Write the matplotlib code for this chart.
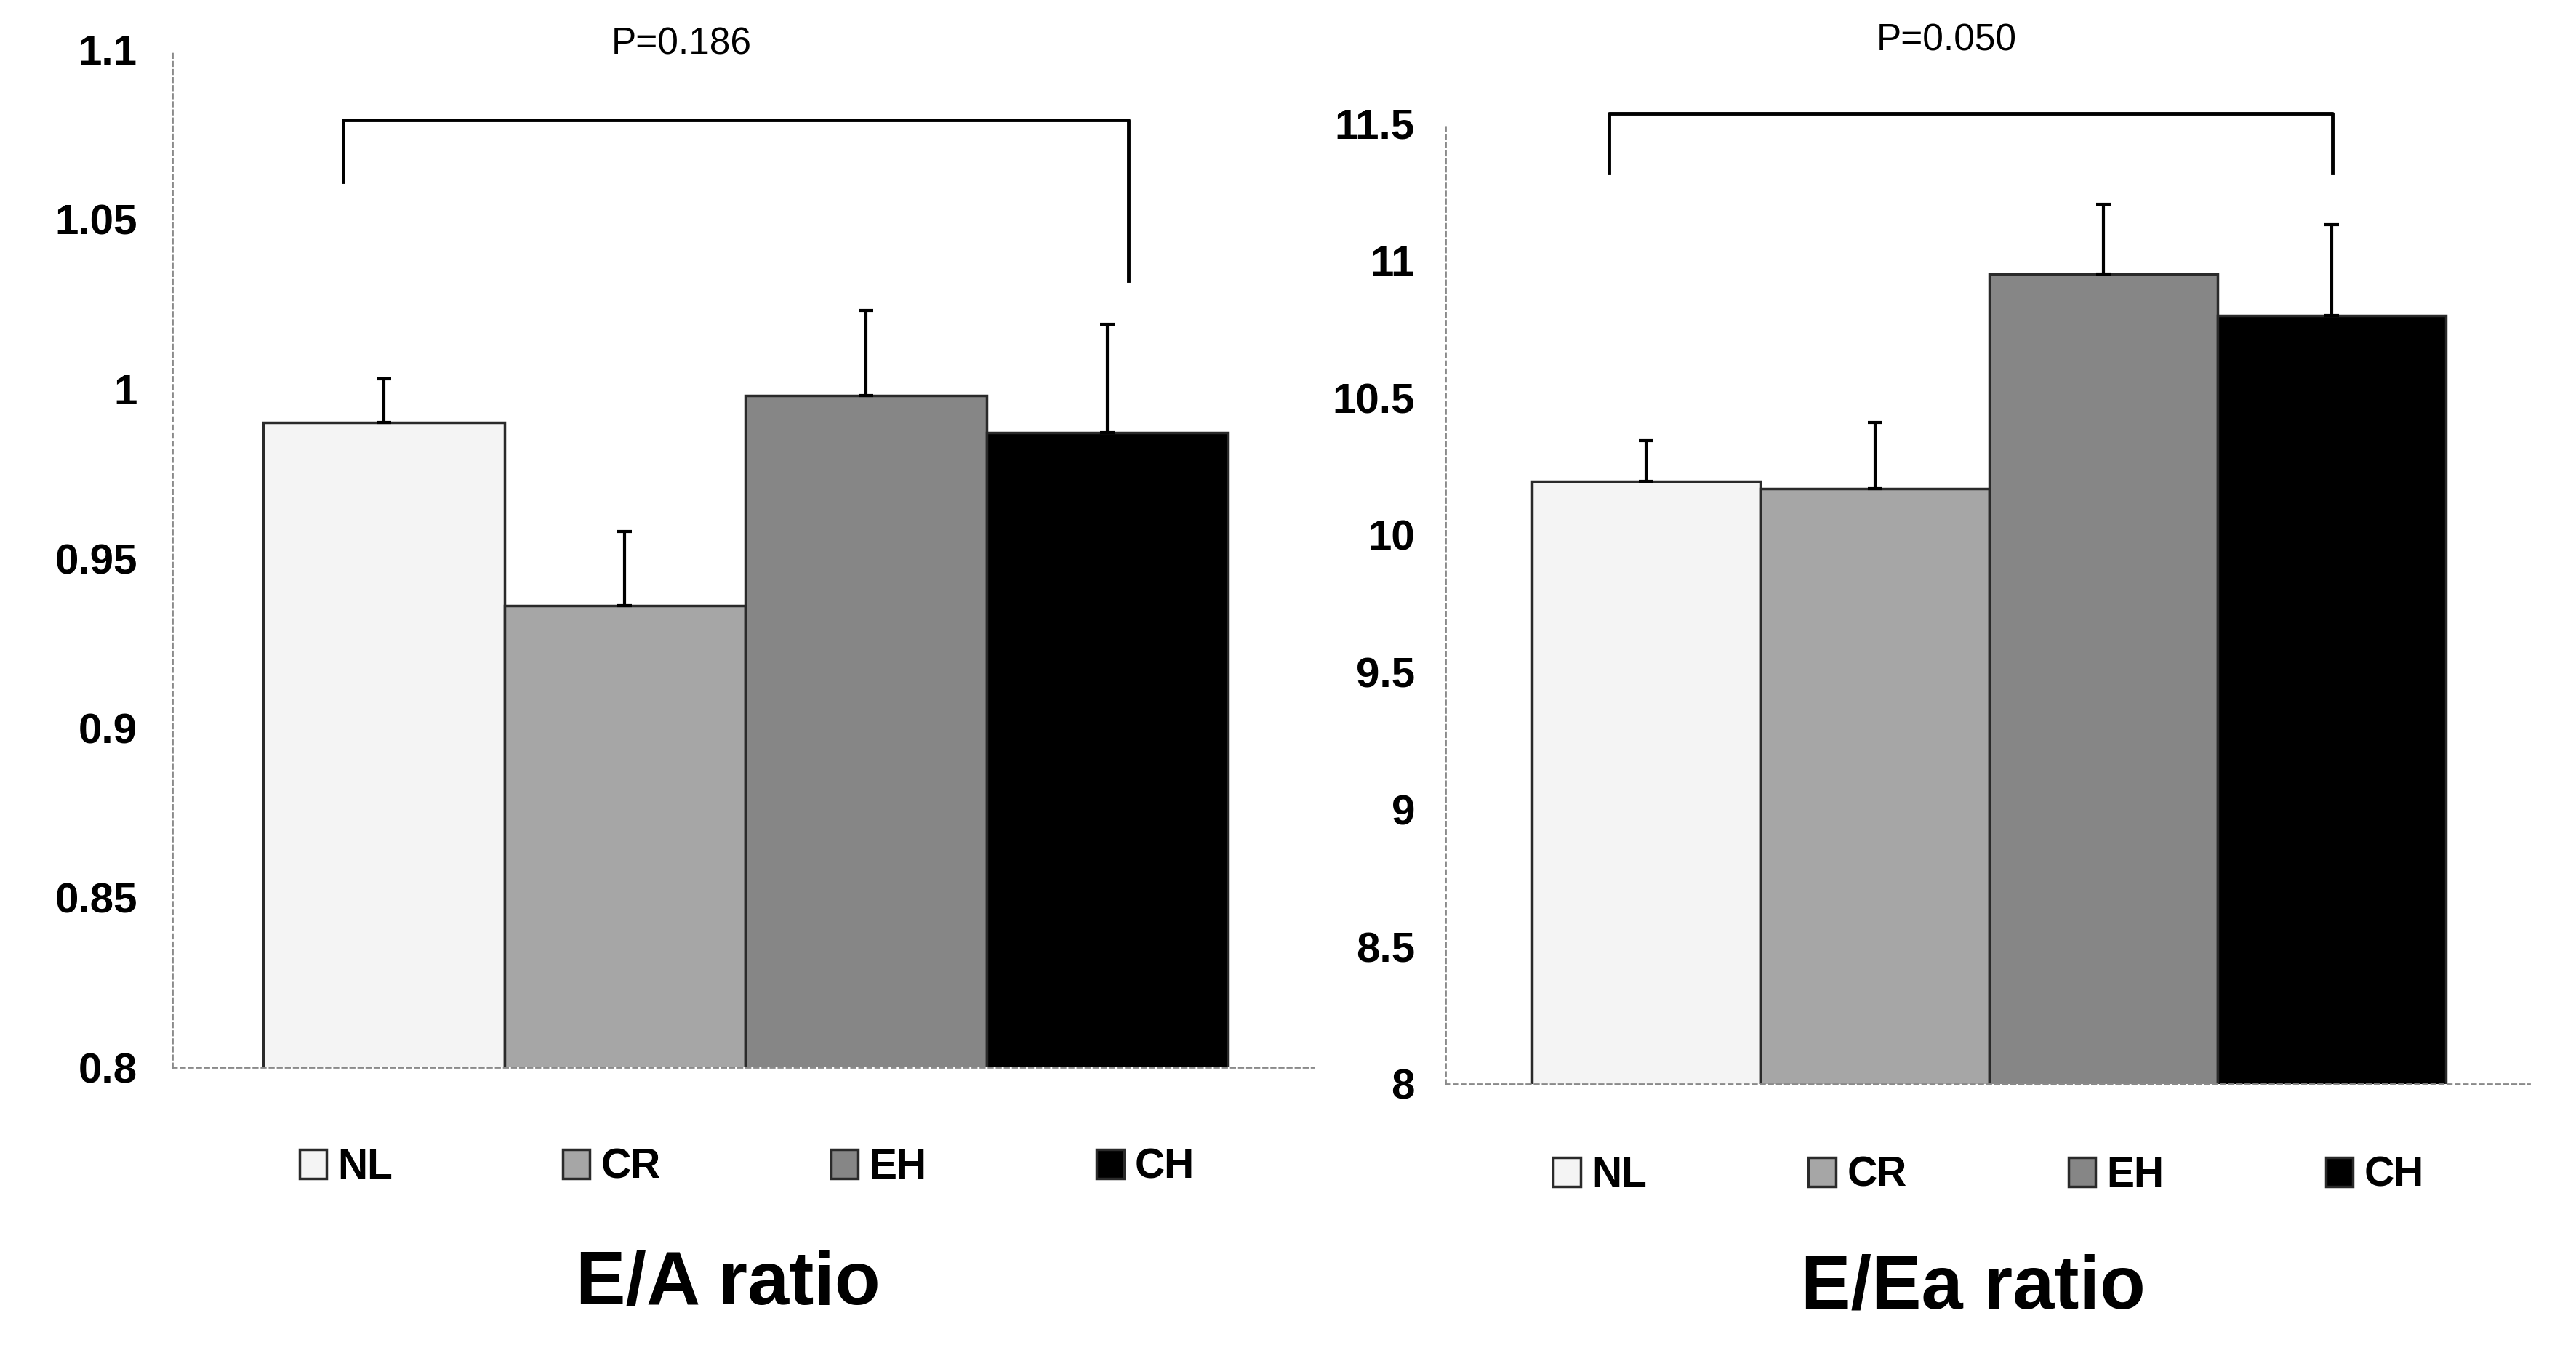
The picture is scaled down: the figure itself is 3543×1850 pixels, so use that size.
import matplotlib.pyplot as plt

plt.rcParams['font.family'] = ['Liberation Sans', 'DejaVu Sans']

groups = ['NL', 'CR', 'EH', 'CH']
colors = ['#f4f4f4', '#a6a6a6', '#868686', '#000000']

# E/A ratio
ea_means = [0.990, 0.936, 0.998, 0.987]
ea_errs = [0.013, 0.022, 0.025, 0.032]
ea_ticks = [0.8, 0.85, 0.9, 0.95, 1.0, 1.05, 1.1]
ea_ticklabels = ['0.8', '0.85', '0.9', '0.95', '1', '1.05', '1.1']
ea_p = 'P=0.186'

# E/Ea ratio
eea_means = [10.195, 10.17, 10.95, 10.80]
eea_errs = [0.15, 0.24, 0.255, 0.33]
eea_ticks = [8, 8.5, 9, 9.5, 10, 10.5, 11, 11.5]
eea_ticklabels = ['8', '8.5', '9', '9.5', '10', '10.5', '11', '11.5']
eea_p = 'P=0.050'


def draw_panel(ax, means, errs, ticks, ticklabels, xlim, bracket, ptext, ppos, legend_pos, colspace, ypad):
    x = range(len(groups))
    bars = ax.bar(x, means, width=1.0, color=colors, edgecolor='#2a2a2a',
                  linewidth=2.5, label=groups, zorder=2)
    ax.errorbar(x, means, yerr=[[0] * len(errs), errs], fmt='none',
                ecolor='black', elinewidth=3, capsize=7, capthick=3, zorder=3)
    ax.set_xlim(xlim)
    ax.set_ylim(ticks[0], ticks[-1])
    ax.set_yticks(ticks)
    ax.set_yticklabels(ticklabels, fontsize=42, fontweight='bold')
    ax.set_xticks([])
    ax.tick_params(axis='y', length=0, pad=ypad)
    for s in ['top', 'right']:
        ax.spines[s].set_visible(False)
    for s in ['left', 'bottom']:
        ax.spines[s].set_color('#8a8a8a')
        ax.spines[s].set_linewidth(2)
        ax.spines[s].set_linestyle((0, (2, 2)))

    # significance bracket
    bx0, bx1, by0, ytop, by1 = bracket
    ax.plot([bx0, bx0, bx1, bx1], [by0, ytop, ytop, by1], color='black',
            linewidth=3.5, clip_on=False, zorder=4)
    ax.text(ppos[0], ppos[1], ptext, fontsize=37, ha='center', va='center',
            clip_on=False)

    fig.legend(handles=bars.patches, labels=groups, loc='center',
               bbox_to_anchor=legend_pos, ncol=4, frameon=False,
               prop={'size': 41, 'weight': 'bold'}, handlelength=0.66,
               handleheight=0.7, handletextpad=0.27, columnspacing=colspace)


fig = plt.figure(figsize=(35.43, 18.5), dpi=100)

ax1 = fig.add_axes([0.067, 0.2063, 0.443, 0.757])
draw_panel(ax1, ea_means, ea_errs, ea_ticks, ea_ticklabels,
           xlim=(-0.874, 3.854), bracket=(-0.167, 3.085, 1.061, 1.0792, 1.0319),
           ptext=ea_p, ppos=(1.235, 1.1015), legend_pos=(0.29, 0.132),
           colspace=4.1, ypad=35)

ax2 = fig.add_axes([0.561, 0.1941, 0.421, 0.7143])
draw_panel(ax2, eea_means, eea_errs, eea_ticks, eea_ticklabels,
           xlim=(-0.881, 3.867), bracket=(-0.162, 3.004, 11.319, 11.535, 11.319),
           ptext=eea_p, ppos=(1.313, 11.80), legend_pos=(0.772, 0.126),
           colspace=3.9, ypad=30)

fig.text(0.2825, 0.045, 'E/A ratio', fontsize=74, fontweight='bold',
         ha='center', va='center')
fig.text(0.766, 0.0415, 'E/Ea ratio', fontsize=74, fontweight='bold',
         ha='center', va='center')

fig.savefig('out.png', dpi=100, facecolor='white')
